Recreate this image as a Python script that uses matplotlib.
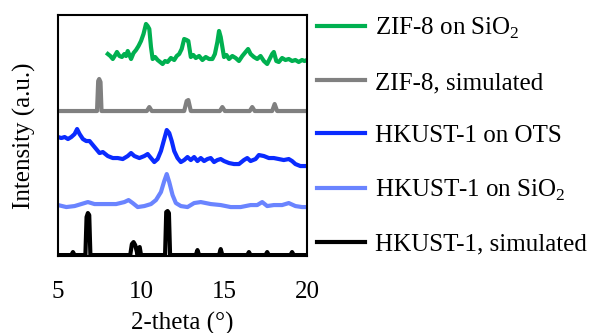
import numpy as np
import matplotlib.pyplot as plt

plt.rcParams['font.family'] = ['Liberation Serif', 'DejaVu Serif']
plt.rcParams['mathtext.fontset'] = 'custom'
plt.rcParams['mathtext.rm'] = 'Liberation Serif'

# trace data (2-theta, intensity above its own baseline)
zif_film_x = [8.0, 8.15, 8.3, 8.45, 8.55, 8.7, 8.85, 9.0, 9.1, 9.2, 9.3, 9.4, 9.55, 9.7, 9.85, 10.0, 10.15,
              10.3, 10.4, 10.5, 10.6, 10.7, 10.85, 11.0, 11.15, 11.3, 11.45, 11.6, 11.8, 12.0, 12.15,
              12.3, 12.45, 12.6, 12.75, 12.85, 13.0, 13.15, 13.3, 13.5, 13.7, 13.9, 14.1, 14.3, 14.45,
              14.6, 14.7, 14.8, 14.9, 15.0, 15.15, 15.3, 15.5, 15.7, 15.9, 16.1, 16.3, 16.45, 16.6,
              16.8, 17.0, 17.2, 17.4, 17.6, 17.75, 17.9, 18.0, 18.15, 18.3, 18.5, 18.7, 18.9, 19.1,
              19.3, 19.5, 19.7, 19.85, 20.0]
zif_film_y = [5, 3, 0, 4, 7, 3, 2, 5, 3, 8, 4, 0, 6, 9, 13, 18, 25,
              35, 33, 30, 12, 0, 2, -1, -3, -5, -2, -3, 1, -1, 3,
              5, 10, 20, 19, 18, 2, 4, 1, 3, -1, 2, 0, 0, 5,
              17, 28, 22, 12, 2, 4, 0, 3, 1, -2, 3, 7, 10, 5,
              2, 0, 3, -2, -5, 0, 5, 7, -2, -3, 1, -1, 0, -2,
              -1, -3, -1, -2, -1]

zif_sim_x = [5.0, 7.35, 7.42, 7.48, 7.56, 7.62, 10.35, 10.5, 10.65, 12.6, 12.75, 12.85, 13.0,
             14.75, 14.9, 15.05, 16.55, 16.7, 16.85, 17.9, 18.05, 18.2, 20.0]
zif_sim_y = [0, 0, 30, 32, 29, 0, 0, 4, 0, 0, 10, 11, 0,
             0, 4, 0, 0, 4, 0, 0, 7, 0, 0]

hk_ots_x = [5.0, 5.2, 5.4, 5.6, 5.8, 6.0, 6.15, 6.3, 6.5, 6.7, 6.9, 7.1, 7.3, 7.5, 7.7, 8.0, 8.3,
            8.6, 8.9, 9.2, 9.4, 9.6, 9.9, 10.2, 10.4, 10.6, 10.8, 11.0, 11.2, 11.4, 11.55, 11.7,
            11.85, 12.0, 12.2, 12.4, 12.6, 12.8, 13.0, 13.2, 13.4, 13.6, 13.8, 14.0, 14.2, 14.4,
            14.6, 14.8, 15.0, 15.3, 15.6, 15.9, 16.2, 16.4, 16.6, 16.9, 17.1, 17.4, 17.7, 18.0,
            18.3, 18.6, 18.9, 19.1, 19.3, 19.6, 20.0]
hk_ots_y = [24, 23, 24, 22, 24, 27, 32, 27, 22, 20, 20, 16, 12, 8, 9, 5, 3,
            3, 2, 5, 8, 5, 3, 5, 7, 3, -1, 2, 10, 22, 31, 28,
            20, 10, 3, -1, 1, 4, 1, 4, 0, 3, 0, 2, 3, -1,
            1, 2, 0, -2, -3, -3, 1, 3, 0, 2, 6, 5, 3, 3,
            2, 1, 2, 0, -3, -5, -5]

hk_sio2_x = [5.0, 5.5, 6.0, 6.4, 6.8, 7.2, 7.6, 8.0, 8.5, 9.0, 9.25, 9.5, 9.8, 10.2, 10.6, 10.9,
             11.2, 11.4, 11.55, 11.7, 11.9, 12.1, 12.4, 12.8, 13.2, 13.6, 14.2, 14.8, 15.4, 16.0,
             16.6, 17.0, 17.3, 17.6, 18.0, 18.5, 18.9, 19.3, 19.7, 20.0]
hk_sio2_y = [2, 0, 1, 3, 5, 3, 3, 3, 3, 5, 7, 4, 0, 1, 3, 7,
             15, 26, 33, 25, 12, 4, 1, 0, 4, 5, 3, 2, 0, 0,
             2, 2, 5, 1, 2, 2, 4, 1, 0, 0]

hk_sim_x = [5.0, 5.8, 5.9, 6.0, 6.65, 6.72, 6.8, 6.88, 6.95, 9.35, 9.45, 9.55, 9.65, 9.8, 9.85,
            9.92, 10.0, 11.45, 11.52, 11.6, 11.68, 11.75, 13.3, 13.4, 13.5, 14.7, 14.8, 14.9,
            16.4, 16.5, 16.6, 17.5, 17.6, 17.7, 19.0, 19.1, 19.2, 20.0]
hk_sim_y = [0, 0, 3, 0, 0, 38, 42, 40, 0, 0, 11, 13, 10, 0, 7, 8, 0, 0, 43, 44, 42, 0, 0, 5, 0,
            0, 6, 0, 0, 3, 0, 0, 3, 0, 0, 3, 0, 0]

labels = ['ZIF-8 on SiO$_2$', 'ZIF-8, simulated', 'HKUST-1 on OTS',
          'HKUST-1 on SiO$_2$', 'HKUST-1, simulated']
colors = ['#00B050', '#808080', '#0A2BFF', '#6A84FF', '#000000']
offsets = [196, 144, 94, 48, 0]
xs = [zif_film_x, zif_sim_x, hk_ots_x, hk_sio2_x, hk_sim_x]
ys = [zif_film_y, zif_sim_y, hk_ots_y, hk_sio2_y, hk_sim_y]

fs = 18

fig = plt.figure(figsize=(5.95, 3.33), dpi=100)
ax = fig.add_axes([0.0975, 0.231, 0.4185, 0.724])

for x, y, off, c, lab in zip(xs, ys, offsets, colors, labels):
    ax.plot(x, np.array(y) + off, color=c, lw=3.0, label=lab, solid_joinstyle='round')

ax.set_xlim(5, 20)
ax.set_ylim(-1, 240)
ax.set_xticks([5, 10, 15, 20])
ax.set_yticks([])
ax.tick_params(axis='x', length=0, pad=18, labelsize=fs)
for s in ax.spines.values():
    s.set_linewidth(1.5)
ax.set_xlabel('2-theta (°)', fontsize=fs, labelpad=6)
ax.set_ylabel('Intensity (a.u.)', fontsize=fs, labelpad=16)

ax.legend(loc='upper left', bbox_to_anchor=(317 / 595, 1 - 16 / 333),
          bbox_transform=fig.transFigure, frameon=False, fontsize=fs,
          handlelength=1.92, handletextpad=0.4, labelspacing=1.22,
          borderaxespad=0, borderpad=0)

fig.savefig('out.png', dpi=100)
